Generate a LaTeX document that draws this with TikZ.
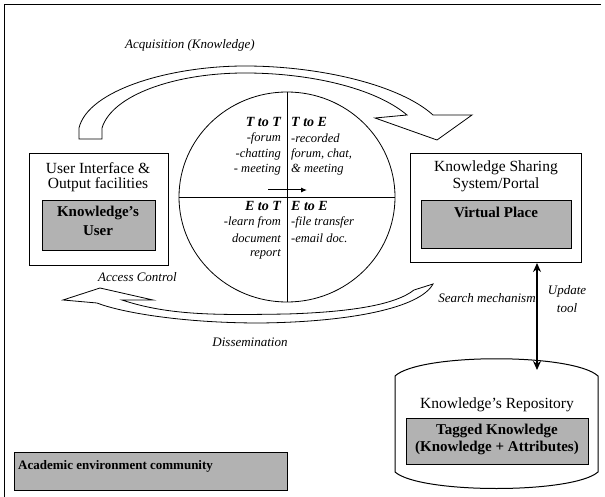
\documentclass[tikz,border=0pt]{standalone}
\usepackage{fontspec}
\setmainfont{Liberation Serif}
\usetikzlibrary{arrows.meta,shapes.geometric}
\begin{document}
\begin{tikzpicture}[x=1pt,y=-1pt,
  lbl/.style={font=\fontsize{13}{15}\selectfont\itshape, inner sep=0pt},
  ttl/.style={font=\fontsize{15.5}{17}\selectfont, inner sep=0pt},
  bx/.style={draw, line width=1pt, inner sep=0pt, anchor=north west},
  graybox/.style={draw, fill=black!30, line width=1pt, inner sep=0pt, anchor=north west},
  boldtxt/.style={font=\fontsize{15}{17}\selectfont\bfseries, inner sep=0pt},
  hollow/.style={draw, fill=white, line width=0.8pt, line join=miter},
  quadh/.style={font=\fontsize{14}{16}\selectfont\bfseries\itshape, inner sep=0pt},
  quad/.style={font=\fontsize{12.5}{15}\selectfont\itshape, inner sep=0pt},
]
\useasboundingbox (0,0) rectangle (605,497);
% frame
\draw[line width=1pt] (4,497) -- (4,5) -- (601,5);

% top hollow arrow (Acquisition)
\draw[hollow] (79,139) -- (79,128) .. controls (88,90) and (170,66) .. (245,66)
  .. controls (320,66) and (400,85) .. (433,115) -- (472,115) -- (437,140) -- (375,118)
  -- (407,115) .. controls (375,88) and (310,73) .. (245,73)
  .. controls (175,73) and (112,95) .. (102,128) -- (102,139) -- cycle;
\node[lbl] (acq) at (190,45) {Acquisition (Knowledge)};

% bottom hollow arrow (Dissemination)
\draw[hollow] (63,300) -- (100,288) -- (153,300) -- (122,300)
  .. controls (170,316) and (220,315) .. (287,314)
  .. controls (350,312) and (395,305) .. (414,290) -- (433,284)
  .. controls (420,308) and (350,322) .. (260,323)
  .. controls (180,323) and (120,312) .. (97,303) -- cycle;
\node[lbl, anchor=west] (acc) at (98,277) {Access Control};
\node[lbl] (dis) at (250,342) {Dissemination};

% circle
\node[draw, ellipse, line width=0.8pt, minimum width=216, minimum height=210, inner sep=0pt] (circ) at (287,197) {};
\draw[line width=0.8pt] (circ.north) -- (circ.south);
\draw[line width=0.8pt] (circ.west) -- (circ.east);
\coordinate (sa) at (268,190);
\coordinate (sb) at (307,190);
\draw[line width=1pt, -{Latex[length=6pt,width=5pt]}] (sa) -- (sb);

% quadrant texts
\node[quadh, anchor=east] (tt) at (281,122) {T to T};
\node[quad, anchor=east] (tt1) at (281,138) {-forum};
\node[quad, anchor=east] (tt2) at (281,154) {-chatting};
\node[quad, anchor=east] (tt3) at (281,170) {- meeting};
\node[quadh, anchor=west] (te) at (291,122) {T to E};
\node[quad, anchor=west] (te1) at (291,138) {-recorded};
\node[quad, anchor=west] (te2) at (291,154) {forum, chat,};
\node[quad, anchor=west] (te3) at (291,170) {\& meeting};
\node[quadh, anchor=east] (et) at (281,206) {E to T};
\node[quad, anchor=east] (et1) at (281,222) {-learn from};
\node[quad, anchor=east] (et2) at (281,238) {document};
\node[quad, anchor=east] (et3) at (281,254) {report};
\node[quadh, anchor=west] (ee) at (291,206) {E to E};
\node[quad, anchor=west] (ee1) at (291,222) {-file transfer};
\node[quad, anchor=west] (ee2) at (291,238) {-email doc.};

% left box
\node[bx, minimum width=139, minimum height=112] (ui) at (29,153) {};
\node[ttl] (uit1) at (98,168) {User Interface \&};
\node[ttl] (uit2) at (98,185) {Output facilities};
\node[graybox, minimum width=113, minimum height=50] (user) at (42,200) {};
\node[boldtxt] (ku1) at (98,213) {Knowledge's};
\node[boldtxt] (ku2) at (98,231) {User};

% right box
\node[bx, minimum width=171, minimum height=109] (portal) at (410,153) {};
\node[ttl] (pt1) at (496,168) {Knowledge Sharing};
\node[ttl] (pt2) at (496,185) {System/Portal};
\node[graybox, minimum width=150, minimum height=48] (vp) at (421,200) {};
\node[boldtxt] (vpt) at (496,212) {Virtual Place};

% cylinder repository
\draw[line width=1pt] (395,376) .. controls (420,353) and (573,353) .. (598,376)
  -- (598,472) .. controls (573,494) and (420,494) .. (395,472) -- cycle;
\node[ttl] (repo) at (497,405) {Knowledge's Repository};
\node[graybox, minimum width=182, minimum height=46] (tag) at (406,418) {};
\node[boldtxt] (tag1) at (497,431) {Tagged Knowledge};
\node[boldtxt] (tag2) at (497,448) {(Knowledge + Attributes)};
\coordinate (repotop) at (537,370);

% double arrow
\draw[line width=1.8pt, {Stealth[length=9pt,width=8pt]}-{Stealth[length=9pt,width=8pt]}]
  ([xshift=41pt]portal.south) -- (repotop);
\node[lbl] (srch) at (487,298) {Search mechanism};
\node[lbl] (upd1) at (567,291) {Update};
\node[lbl] (upd2) at (567,308) {tool};

% academic box
\node[graybox, minimum width=273, minimum height=38] (acad) at (14,452) {};
\node[font=\fontsize{13}{15}\selectfont\bfseries, inner sep=0pt, anchor=west] (acadt) at (18,466) {Academic environment community};
\end{tikzpicture}
\end{document}
